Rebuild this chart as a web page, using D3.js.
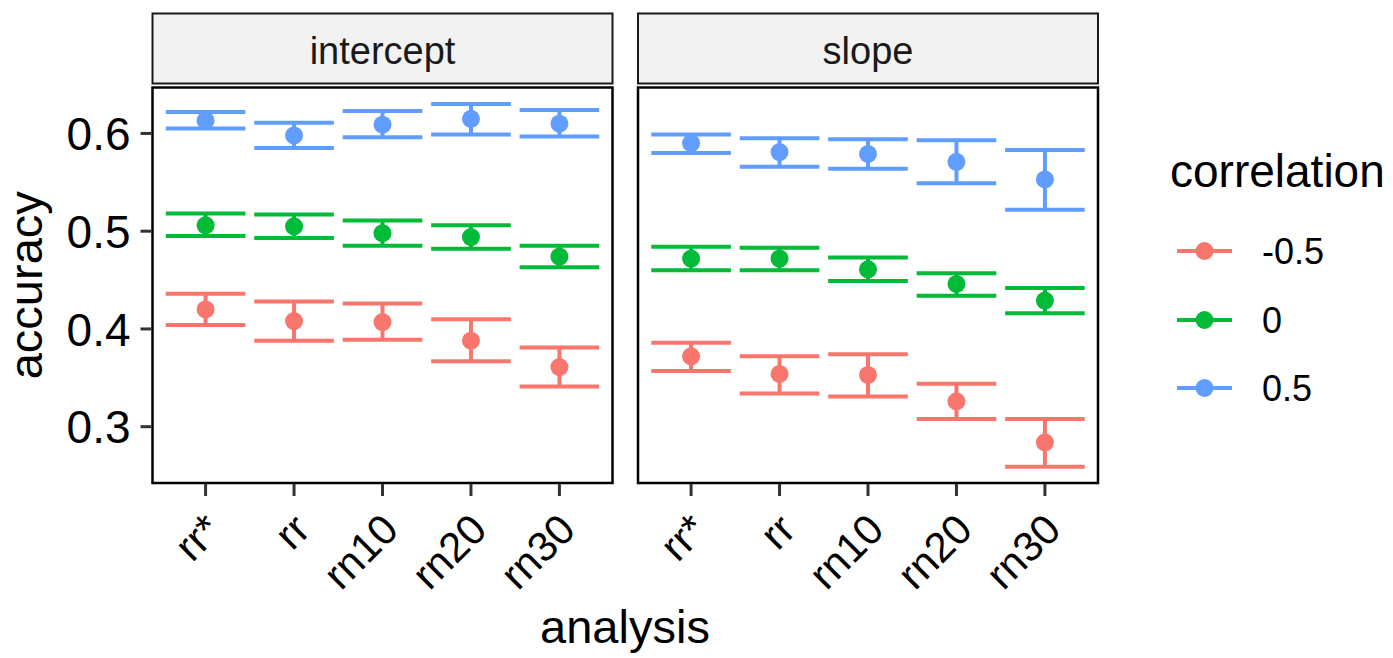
<!DOCTYPE html>
<html>
<head>
<meta charset="utf-8">
<script src="https://cdn.jsdelivr.net/npm/d3@7/dist/d3.min.js"></script>
<style>
  body { margin: 0; background: #fff; }
  text { font-family: "Liberation Sans", Arial, Helvetica, sans-serif; }
</style>
</head>
<body>
<div id="chart"></div>
<script>
// categories
var analyses = ["rr*", "rr", "rn10", "rn20", "rn30"];
var facets = ["intercept", "slope"];
var correlations = ["-0.5", "0", "0.5"];
var yTicks = [0.3, 0.4, 0.5, 0.6];

// intercept facet: mean, lower and upper bound per correlation
var interceptNegMean = [0.420, 0.408, 0.407, 0.388, 0.361];
var interceptNegLo   = [0.404, 0.388, 0.389, 0.367, 0.341];
var interceptNegHi   = [0.436, 0.428, 0.426, 0.410, 0.381];
var interceptZeroMean = [0.506, 0.505, 0.498, 0.494, 0.474];
var interceptZeroLo   = [0.495, 0.493, 0.485, 0.482, 0.463];
var interceptZeroHi   = [0.518, 0.517, 0.511, 0.506, 0.485];
var interceptPosMean = [0.613, 0.598, 0.609, 0.615, 0.610];
var interceptPosLo   = [0.605, 0.585, 0.596, 0.599, 0.597];
var interceptPosHi   = [0.622, 0.611, 0.623, 0.630, 0.624];

// slope facet
var slopeNegMean = [0.372, 0.354, 0.353, 0.326, 0.284];
var slopeNegLo   = [0.357, 0.334, 0.331, 0.308, 0.259];
var slopeNegHi   = [0.386, 0.372, 0.374, 0.344, 0.308];
var slopeZeroMean = [0.472, 0.472, 0.461, 0.446, 0.429];
var slopeZeroLo   = [0.460, 0.460, 0.449, 0.434, 0.416];
var slopeZeroHi   = [0.484, 0.483, 0.473, 0.457, 0.442];
var slopePosMean = [0.590, 0.581, 0.579, 0.571, 0.553];
var slopePosLo   = [0.580, 0.566, 0.564, 0.549, 0.522];
var slopePosHi   = [0.599, 0.595, 0.594, 0.593, 0.583];

var colors = ["#F8766D", "#00BA38", "#619CFF"];

// build long table for drawing
var series = {
  intercept: [[interceptNegMean, interceptNegLo, interceptNegHi],
              [interceptZeroMean, interceptZeroLo, interceptZeroHi],
              [interceptPosMean, interceptPosLo, interceptPosHi]],
  slope: [[slopeNegMean, slopeNegLo, slopeNegHi],
          [slopeZeroMean, slopeZeroLo, slopeZeroHi],
          [slopePosMean, slopePosLo, slopePosHi]]
};

var W = 1393, H = 658;
var panelTop = 87.5, panelBottom = 483, panelW = 460;
var panelLeft = [152.5, 638];
var stripTop = 13.5, stripBottom = 83.5;

var svg = d3.select("#chart").append("svg")
    .attr("width", W)
    .attr("height", H);

var y = d3.scaleLinear()
    .domain([0.2424, 0.6470])
    .range([panelBottom, panelTop]);

var color = d3.scaleOrdinal().domain(correlations).range(colors);

facets.forEach(function(f, fi) {
  var x0 = panelLeft[fi];
  var x = d3.scalePoint()
      .domain(analyses)
      .range([x0, x0 + panelW])
      .padding(0.6);
  var halfW = x.step() * 0.45;

  // strip
  svg.append("rect")
      .attr("x", x0).attr("y", stripTop)
      .attr("width", panelW).attr("height", stripBottom - stripTop)
      .attr("fill", "#F2F2F2")
      .attr("stroke", "#1a1a1a")
      .attr("stroke-width", 2);
  svg.append("text")
      .attr("x", x0 + panelW / 2)
      .attr("y", 63.5)
      .attr("text-anchor", "middle")
      .attr("font-size", 38)
      .attr("fill", "#1A1A1A")
      .text(f);

  var g = svg.append("g");

  var rows = [];
  series[f].forEach(function(s, ci) {
    analyses.forEach(function(a, ai) {
      rows.push({a: a, c: correlations[ci], mean: s[0][ai], lo: s[1][ai], hi: s[2][ai]});
    });
  });

  // error bars
  var eb = g.selectAll(".eb").data(rows).enter().append("g")
      .attr("class", "eb")
      .attr("stroke", function(d) { return color(d.c); })
      .attr("stroke-width", 4)
      .attr("fill", "none");
  eb.append("line")
      .attr("x1", function(d) { return x(d.a) - halfW; })
      .attr("x2", function(d) { return x(d.a) + halfW; })
      .attr("y1", function(d) { return y(d.hi); })
      .attr("y2", function(d) { return y(d.hi); });
  eb.append("line")
      .attr("x1", function(d) { return x(d.a) - halfW; })
      .attr("x2", function(d) { return x(d.a) + halfW; })
      .attr("y1", function(d) { return y(d.lo); })
      .attr("y2", function(d) { return y(d.lo); });
  eb.append("line")
      .attr("x1", function(d) { return x(d.a); })
      .attr("x2", function(d) { return x(d.a); })
      .attr("y1", function(d) { return y(d.hi); })
      .attr("y2", function(d) { return y(d.lo); });

  g.selectAll(".pt").data(rows).enter().append("circle")
      .attr("class", "pt")
      .attr("cx", function(d) { return x(d.a); })
      .attr("cy", function(d) { return y(d.mean); })
      .attr("r", 9)
      .attr("fill", function(d) { return color(d.c); });

  // panel border
  svg.append("rect")
      .attr("x", x0).attr("y", panelTop)
      .attr("width", panelW).attr("height", panelBottom - panelTop)
      .attr("fill", "none")
      .attr("stroke", "#000")
      .attr("stroke-width", 2.5);

  // x axis ticks and rotated labels
  var xa = svg.append("g");
  analyses.forEach(function(a) {
    xa.append("line")
        .attr("x1", x(a)).attr("x2", x(a))
        .attr("y1", panelBottom + 1).attr("y2", panelBottom + 13)
        .attr("stroke", "#333333")
        .attr("stroke-width", 3);
    xa.append("text")
        .attr("transform", "translate(" + (x(a) + 18) + "," + 532 + ") rotate(-45)")
        .attr("text-anchor", "end")
        .attr("font-size", 42)
        .attr("fill", "#000")
        .text(a);
  });

  // y axis only on first panel
  if (fi === 0) {
    var ya = svg.append("g");
    yTicks.forEach(function(t) {
      ya.append("line")
          .attr("x1", x0 - 12).attr("x2", x0 - 1)
          .attr("y1", y(t)).attr("y2", y(t))
          .attr("stroke", "#333333")
          .attr("stroke-width", 3);
      ya.append("text")
          .attr("x", x0 - 22)
          .attr("y", y(t))
          .attr("dy", "0.36em")
          .attr("text-anchor", "end")
          .attr("font-size", 46)
          .attr("fill", "#000")
          .text(d3.format(".1f")(t));
    });
  }
});

// axis titles
svg.append("text")
    .attr("x", 625)
    .attr("y", 643)
    .attr("text-anchor", "middle")
    .attr("font-size", 47)
    .text("analysis");

svg.append("text")
    .attr("transform", "translate(42," + ((panelTop + panelBottom) / 2) + ") rotate(-90)")
    .attr("text-anchor", "middle")
    .attr("font-size", 47)
    .text("accuracy");

// legend
var legend = svg.append("g");
legend.append("text")
    .attr("x", 1170)
    .attr("y", 187)
    .attr("font-size", 46)
    .text("correlation");

var keyY = [251, 320, 388];
correlations.forEach(function(c, i) {
  legend.append("line")
      .attr("x1", 1177).attr("x2", 1232)
      .attr("y1", keyY[i]).attr("y2", keyY[i])
      .attr("stroke", color(c))
      .attr("stroke-width", 4);
  legend.append("circle")
      .attr("cx", 1204.5).attr("cy", keyY[i])
      .attr("r", 9)
      .attr("fill", color(c));
  legend.append("text")
      .attr("x", 1262)
      .attr("y", keyY[i])
      .attr("dy", "0.36em")
      .attr("font-size", 36)
      .text(c);
});
</script>
</body>
</html>
